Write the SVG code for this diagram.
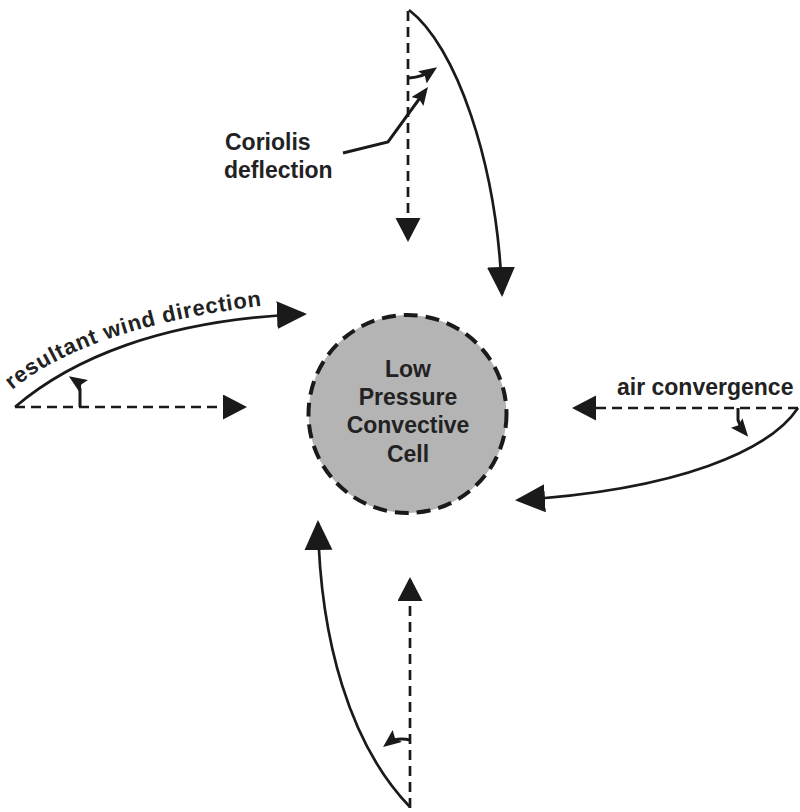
<svg xmlns="http://www.w3.org/2000/svg" width="800" height="812" viewBox="0 0 800 812">
<style>
  .lbl { font-family: "Liberation Sans", Arial, sans-serif; font-weight: bold; font-size: 23px; fill: #222; }
  .solid { fill: none; stroke: #1a1a1a; stroke-width: 2.7; }
  .dash { fill: none; stroke: #1a1a1a; stroke-width: 2.7; stroke-dasharray: 10 6; }
  .small { fill: none; stroke: #1a1a1a; stroke-width: 3; }
</style>
<defs>
  <marker id="big" markerUnits="userSpaceOnUse" markerWidth="32" markerHeight="30" refX="27" refY="14" orient="auto">
    <path d="M0,0 L30,14 L0,28 z" fill="#1a1a1a"/>
  </marker>
  <marker id="dsh" markerUnits="userSpaceOnUse" markerWidth="26" markerHeight="28" refX="21" refY="12.5" orient="auto">
    <path d="M0,0 L24,12.5 L0,25 z" fill="#1a1a1a"/>
  </marker>
  <marker id="sm" markerUnits="userSpaceOnUse" markerWidth="20" markerHeight="16" refX="13" refY="7.5" orient="auto">
    <path d="M0,0 L18,7.5 L0,15 L3,7.5 z" fill="#1a1a1a"/>
  </marker>
  <path id="tp" d="M12,390 C60,350 150,315 300,302"/>
</defs>

<g id="cell">
  <circle cx="407.5" cy="414" r="99" fill="#b4b4b4" stroke="#1a1a1a" stroke-width="4" stroke-dasharray="14 8"/>
  <text class="lbl" text-anchor="middle" x="408" y="377">Low</text>
  <text class="lbl" text-anchor="middle" x="408" y="405">Pressure</text>
  <text class="lbl" text-anchor="middle" x="408" y="433">Convective</text>
  <text class="lbl" text-anchor="middle" x="408" y="462">Cell</text>
</g>

<g id="connectors">
  <!-- top -->
  <path class="dash" d="M408,11 L408,239" marker-end="url(#dsh)"/>
  <path class="solid" d="M409,10 C455,45 497,160 502,294" marker-end="url(#big)"/>
  <path class="small" d="M409,78 Q423,77 433,70" marker-end="url(#sm)"/>
  <path class="small" d="M343,153 L388,142 L425,91" marker-end="url(#sm)"/>
  <!-- left -->
  <path class="dash" d="M15,407 L244,407" marker-end="url(#dsh)"/>
  <path class="solid" d="M15,407 C70,360 160,320 304,314" marker-end="url(#big)"/>
  <path class="small" d="M80,407 L80,389 Q79,383 73,379" marker-end="url(#sm)"/>
  <!-- right -->
  <path class="dash" d="M798,408 L575,408" marker-end="url(#dsh)"/>
  <path class="solid" d="M798,408 C770,450 680,490 518,500" marker-end="url(#big)"/>
  <path class="small" d="M738,408 L738,420 Q740,427 745,433" marker-end="url(#sm)"/>
  <!-- bottom -->
  <path class="dash" d="M410,808 L410,580" marker-end="url(#dsh)"/>
  <path class="solid" d="M410,807 C350,745 320,640 318,523" marker-end="url(#big)"/>
  <path class="small" d="M410,740 Q396,737 387,744" marker-end="url(#sm)"/>
</g>

<g id="labels">
  <text class="lbl" x="225" y="150">Coriolis</text>
  <text class="lbl" x="224" y="178">deflection</text>
  <text class="lbl" x="617" y="395">air convergence</text>
  <text class="lbl" style="font-size:22px; letter-spacing:0.8px"><textPath href="#tp">resultant wind direction</textPath></text>
</g>
</svg>
